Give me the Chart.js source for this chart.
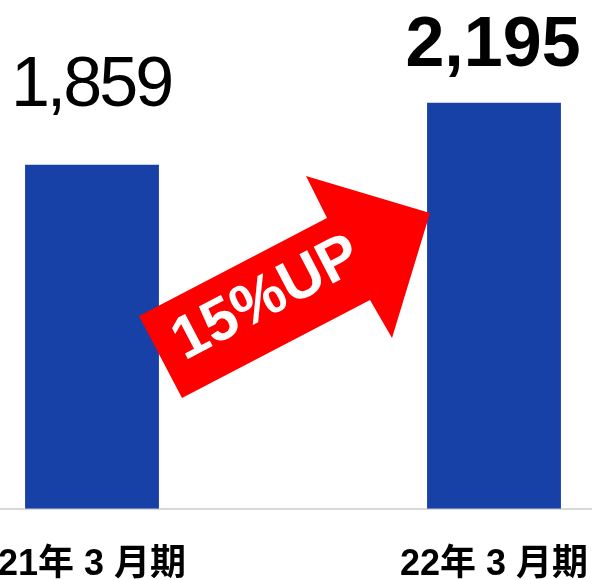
<!DOCTYPE html>
<html>
<head>
<meta charset="utf-8">
<script src="https://cdn.jsdelivr.net/npm/chart.js@4.4.1/dist/chart.umd.min.js"></script>
<style>
  html, body { margin: 0; padding: 0; background: #fff; overflow: hidden; width: 592px; height: 580px; }
  #wrap { position: absolute; left: -109px; top: 0; width: 804px; height: 622px; }
</style>
</head>
<body>
<div id="wrap"><canvas id="chart"></canvas></div>
<script>
'use strict';

const periods = ['21年 3 月期', '22年 3 月期'];
const sales = [1859, 2195];
const growthLabel = '15%UP';

const BAR_COLOR = '#1741a6';
const FONT = "'Liberation Sans', Arial, 'Noto Sans CJK JP', sans-serif";
const OFFSET_X = 109;              // canvas is shifted left, chart is cropped
const LABEL_WEIGHT = ['normal', 'bold'];
const LABEL_SPACING = ['-3px', '0px'];
const LABEL_GAP = [59, 37];        // px between bar top and text baseline

// value labels above bars
const valueLabels = {
  id: 'valueLabels',
  afterDatasetsDraw(chart) {
    const { ctx } = chart;
    chart.getDatasetMeta(0).data.forEach((bar, i) => {
      ctx.save();
      ctx.font = `${LABEL_WEIGHT[i]} 70px ${FONT}`;
      ctx.letterSpacing = LABEL_SPACING[i];
      ctx.fillStyle = '#000';
      ctx.textAlign = 'center';
      ctx.textBaseline = 'alphabetic';
      ctx.fillText(sales[i].toLocaleString('en-US'), bar.x - 1, bar.y - LABEL_GAP[i]);
      ctx.restore();
    });
  }
};

// red growth arrow between the bars
const growthArrow = {
  id: 'growthArrow',
  afterDatasetsDraw(chart) {
    const { ctx } = chart;
    const pts = [[139, 316], [327, 218], [306, 176], [430, 213], [392, 338], [370, 300], [182, 398]];
    ctx.save();
    ctx.translate(OFFSET_X, 0);
    ctx.beginPath();
    pts.forEach(([x, y], i) => (i ? ctx.lineTo(x, y) : ctx.moveTo(x, y)));
    ctx.closePath();
    ctx.fillStyle = '#ff0000';
    ctx.fill();

    ctx.translate(267, 299);
    ctx.rotate(Math.atan2(-98, 188));
    ctx.font = `bold 60px ${FONT}`;
    ctx.fillStyle = '#fff';
    ctx.textAlign = 'center';
    ctx.textBaseline = 'middle';
    ctx.fillText(growthLabel, 0, 0);
    ctx.restore();
  }
};

new Chart(document.getElementById('chart'), {
  type: 'bar',
  data: {
    labels: periods,
    datasets: [{
      data: sales,
      backgroundColor: BAR_COLOR,
      categoryPercentage: 1,
      barPercentage: 0.333,
    }],
  },
  options: {
    responsive: true,
    maintainAspectRatio: false,
    animation: false,
    layout: { padding: 0 },
    plugins: { legend: { display: false }, tooltip: { enabled: false } },
    scales: {
      x: {
        grid: { display: false, drawTicks: false },
        border: { display: true, color: '#d9d9d9', width: 2 },
        ticks: {
          color: '#000',
          padding: 35,
          font: { family: FONT, size: 36, weight: 'bold', lineHeight: 1.2 },
        },
      },
      y: { display: false, min: 0, max: 2750 },
    },
  },
  plugins: [valueLabels, growthArrow],
});
</script>
</body>
</html>
